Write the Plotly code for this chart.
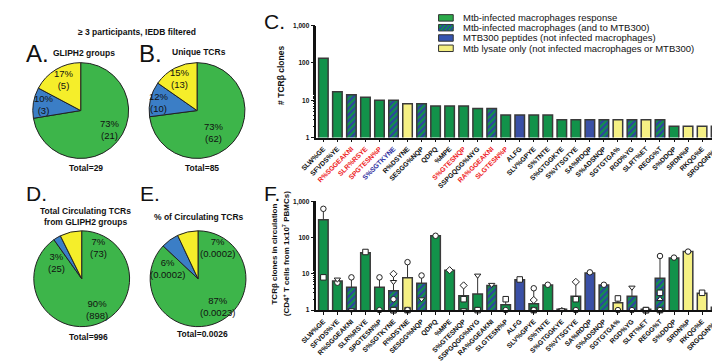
import plotly.graph_objects as go

W, H = 720, 362
FONT = "Arial, 'Liberation Sans', sans-serif"


def X(p):
    return p / W


def Y(p):
    return 1 - p / H


# ---------------- data ----------------
# pie slices in order (clockwise from 12 o'clock): green (infected macrophages), blue (MTB300), yellow (lysate only)
pie_A_vals = [21, 3, 5]
pie_A_pct = [73, 10, 17]
pie_B_vals = [62, 10, 13]
pie_B_pct = [73, 12, 15]
pie_D_vals = [898, 25, 73]
pie_D_pct = [90, 3, 7]
pie_E_pct = [87, 6, 7]
pie_E_vals = ["0.0023", "0.0002", "0.0002"]
pie_E_total = "0.0026"

clonotypes = ["SLW%GE", "SFVDS%YE", "R%SGGEAKNI", "SLR%RSYE", "SPGTESN%P", "S%SGTKYNE",
              "R%DSYNE", "SESGG%NQP", "QDPQ", "%MPE", "S%GTESNQP", "SSPGQGG%NYG",
              "RA%GGEAKNI", "SLGTESN%P", "ALFG", "SLV%GPYE", "S%TNTE", "S%GTGGKYE",
              "S%VTSGTYE", "SA%RDQP", "S%ADSNQP", "SGTGTGA%", "RGD%YG", "SLRT%ET",
              "REGG%T", "S%DDQP", "SRDN%P", "RKQG%E", "SRGQGN%P"]
# g = infected macrophages, h = infected macrophages and MTB300, b = MTB300, y = lysate only
response = ["g", "g", "h", "g", "g", "h", "y", "h", "g", "g", "g", "g", "h", "g", "b",
            "g", "g", "g", "g", "b", "h", "y", "h", "y", "h", "g", "y", "y", "b"]
label_group = ["k", "k", "r", "r", "r", "b", "k", "k", "k", "k", "r", "k", "r", "r", "k",
               "k", "k", "k", "k", "k", "k", "k", "k", "k", "k", "k", "k", "k", "k"]
clone_counts = [135, 17, 14, 12, 10, 10, 8, 8, 7, 7, 7, 6, 6, 4, 4, 4, 4, 3, 3, 3, 3, 3,
                3, 3, 3, 2, 2, 2, 2]

circ_mean = [310, 6.3, 4.3, 38, 4.3, 3.4, 7.8, 5.5, 112, 12.6, 2.5, 2.8, 4.8, 1.4, 6.9,
             1.5, 4.9, 1.05, 2.4, 10.6, 4.9, 1.6, 2.4, 1.05, 7.5, 27.5, 41, 2.9, 1.2]
circ_points = [[620, 8], [5.7, 7], [8, 1], [40], [8, 1], [10, 6, 2, 1, 1], [21, 1, 1],
               [9, 2], [112], [12.6], [4.8, 2, 1], [9, 1, 1], [5], [2, 1], [7],
               [4, 1.9, 1, 1], [5], [1, 1], [6, 2, 1, 1], [11], [5], [2.1, 1], [4.2, 1],
               [1, 1, 1], [31, 3, 2, 1, 1], [28], [41], [3], [2, 1, 1]]
circ_symbols = [["circle", "square"], ["circle", "triangle-down"], ["circle", "triangle-down"],
                ["square"], ["circle", "circle"],
                ["diamond", "triangle-down", "circle", "square", "square"],
                ["circle", "square", "circle"], ["circle", "triangle-down"], ["circle"],
                ["diamond"], ["diamond", "square", "triangle-down"],
                ["triangle-down", "circle", "square"], ["triangle-down"], ["square", "circle"],
                ["square"], ["circle", "diamond", "square", "circle"], ["circle"],
                ["triangle-up", "triangle-down"], ["diamond", "square", "circle", "circle"],
                ["circle"], ["circle"], ["square", "circle"], ["triangle-down", "circle"],
                ["square", "circle", "square"],
                ["circle", "square", "triangle-up", "square", "circle"],
                ["circle"], ["circle"], ["square"], ["circle", "square", "circle"]]

legend_labels = ["Mtb-infected macrophages response",
                 "Mtb-infected macrophages (and to MTB300)",
                 "MTB300 peptides (not infected macrophages)",
                 "Mtb lysate only (not infected macrophages or MTB300)"]

# ---------------- styles ----------------
PIE_COLORS = ["#3DB54A", "#3B7EC6", "#F5EE2A"]
BAR_GREEN = "#12924A"
BAR_BLUE = "#3A50A6"
BAR_YELLOW = "#F6F184"
HATCH = "#2C44A0"
fill_map = {"g": BAR_GREEN, "h": BAR_GREEN, "b": BAR_BLUE, "y": BAR_YELLOW}
LBL = {"k": "#111111", "r": "#EE1C25", "b": "#2E2E9E"}

fig = go.Figure()


def add_pie(vals, domx, domy):
    fig.add_trace(go.Pie(values=vals, sort=False, direction="clockwise", rotation=0,
                         marker=dict(colors=PIE_COLORS, line=dict(color="#222222", width=1)),
                         textinfo="none", hoverinfo="skip", showlegend=False,
                         domain=dict(x=[X(domx[0]), X(domx[1])], y=[Y(domy[1]), Y(domy[0])])))


add_pie(pie_A_vals, (9, 107), (51.5, 149.5))
add_pie(pie_B_vals, (128, 226), (51.5, 149.5))
add_pie(pie_D_vals, (10, 108), (223, 321))
add_pie([float(v) for v in pie_E_pct], (129, 227), (223, 321))

OUTLINE = dict(color="#3A3A3A", width=1.5)
HATCH_PATTERN = dict(shape="/", fgcolor=HATCH, fgopacity=1, size=4.5, solidity=0.5,
                     fillmode="overlay")


def add_bars(values, xa, ya):
    plain_y = [v if r != "h" else None for v, r in zip(values, response)]
    hatch_y = [v if r == "h" else None for v, r in zip(values, response)]
    plain_c = [fill_map[r] for r in response]
    fig.add_trace(go.Bar(x=clonotypes, y=plain_y, xaxis=xa, yaxis=ya,
                         marker=dict(color=plain_c, line=OUTLINE),
                         showlegend=False, hoverinfo="skip"))
    fig.add_trace(go.Bar(x=clonotypes, y=hatch_y, xaxis=xa, yaxis=ya,
                         marker=dict(color=BAR_GREEN, line=OUTLINE, pattern=HATCH_PATTERN),
                         showlegend=False, hoverinfo="skip"))


add_bars(clone_counts, "x", "y")
add_bars(circ_mean, "x2", "y2")

# range error bars (mean -> max point) for panel F
err_up = [max(0, max(p) - m) for p, m in zip(circ_points, circ_mean)]
fig.add_trace(go.Scatter(x=clonotypes, y=circ_mean, xaxis="x2", yaxis="y2", mode="markers",
                         marker=dict(size=0.1, color="rgba(0,0,0,0)"),
                         error_y=dict(type="data", symmetric=False, array=err_up,
                                      arrayminus=[0] * len(err_up), color="#333333",
                                      thickness=1, width=0),
                         showlegend=False, hoverinfo="skip"))

px_, py_, ps_ = [], [], []
for c, pts, syms in zip(clonotypes, circ_points, circ_symbols):
    for v, s in zip(pts, syms):
        px_.append(c)
        py_.append(v)
        ps_.append(s)
fig.add_trace(go.Scatter(x=px_, y=py_, xaxis="x2", yaxis="y2", mode="markers",
                         marker=dict(symbol=ps_, size=5.5, color="white",
                                     line=dict(color="#222222", width=1)),
                         cliponaxis=False, showlegend=False, hoverinfo="skip"))

tick_C = [f'<span style="color:{LBL[g]}">{c}</span>' for c, g in zip(clonotypes, label_group)]
tick_F = list(clonotypes)

axis_common = dict(showline=True, linecolor="#111111", linewidth=1.5, ticks="outside",
                   tickcolor="#111111", tickwidth=1.2, showgrid=False, zeroline=False)
xfont = dict(family=FONT, size=6.8, color="#111111", weight=700)
yfont = dict(family=FONT, size=6.5, color="#111111", weight=700)
minor = dict(ticks="outside", ticklen=2, tickcolor="#111111", tickwidth=0.8, showgrid=False)

fig.update_layout(
    width=W, height=H, margin=dict(l=0, r=0, t=0, b=0),
    paper_bgcolor="white", plot_bgcolor="white", bargap=0.32, barmode="overlay",
    font=dict(family=FONT, color="#111111"),
    xaxis=dict(domain=[X(299), X(715)], anchor="y", tickmode="array", tickvals=clonotypes,
               ticktext=tick_C, tickangle=-45, tickfont=xfont, ticklen=3,
               range=[-0.5, 28.5], **axis_common),
    yaxis=dict(domain=[Y(128), Y(14)], anchor="x", type="log", range=[0, 3],
               tickvals=[1, 10, 100, 1000], ticktext=["1", "10", "100", "1,000"],
               tickfont=yfont, ticklen=4, minor=minor, **axis_common),
    xaxis2=dict(domain=[X(299), X(715)], anchor="y2", tickmode="array", tickvals=clonotypes,
                ticktext=tick_F, tickangle=-45, tickfont=xfont, ticklen=3,
                range=[-0.5, 28.5], **axis_common),
    yaxis2=dict(domain=[Y(304), Y(193)], anchor="x2", type="log", range=[0, 3],
                tickvals=[1, 10, 100, 1000], ticktext=["1", "10", "100", "1,000"],
                tickfont=yfont, ticklen=4, minor=minor, **axis_common),
)

ann = []


def text(x, y, s, size=9, bold=False, anchor="center", angle=0, color="#111111"):
    ann.append(dict(x=X(x), y=Y(y), xref="paper", yref="paper", text=s, showarrow=False,
                    xanchor=anchor, yanchor="middle", textangle=angle,
                    font=dict(family=FONT, size=size, color=color, weight=700 if bold else 400)))


# Titles & panel letters
text(116, 20, "≥ 3 participants, IEDB filtered", 8.5, True)
text(0, 42, "A.", 24, anchor="left")
text(61, 42, "GLIPH2 groups", 8.5, True)
text(116, 42, "B.", 24, anchor="left")
text(179, 41, "Unique TCRs", 8.5, True)
text(0, 185, "D.", 21, anchor="left")
text(63, 203, "Total Circulating TCRs", 8.5, True)
text(63, 214, "from GLIPH2 groups", 8.5, True)
text(117, 185, "E.", 21, anchor="left")
text(179, 209, "% of Circulating TCRs", 8.5, True)
text(243, 10, "C.", 21, anchor="left")
text(243, 185, "F.", 21, anchor="left")

# pie labels (green, blue, yellow)
PS = 9.5
for (cx, cy), p, v in zip([(88, 120), (20, 94), (41, 69)], pie_A_pct, pie_A_vals):
    text(cx, cy, f"{p}%<br>({v})", PS)
for (cx, cy), p, v in zip([(194, 123), (138, 92), (160, 68)], pie_B_pct, pie_B_vals):
    text(cx, cy, f"{p}%<br>({v})", PS)
for (cx, cy), p, v in zip([(75, 303), (33, 255), (76, 240)], pie_D_pct, pie_D_vals):
    text(cx, cy, f"{p}%<br>({v})", PS)
for (cx, cy), p, v in zip([(198, 300), (147, 262), (198, 240)], pie_E_pct, pie_E_vals):
    text(cx, cy, f"{p}%<br>({v})", PS)

text(63, 159, f"Total={sum(pie_A_vals)}", 8.5, True)
text(182, 159, f"Total={sum(pie_B_vals)}", 8.5, True)
text(66, 331, f"Total={sum(pie_D_vals)}", 8.5, True)
text(183, 328, f"Total={pie_E_total}", 8.5, True)

# axis titles
text(263, 65, "# TCRβ clones", 8.5, True, angle=-90)
text(256, 247, "TCRβ clones in circulation", 8, True, angle=-90)
text(268, 247, "(CD4<sup>+</sup> T cells from 1x10<sup>7</sup> PBMCs)", 8, True, angle=-90)

# manual legend
shapes = []
rows = [6, 16, 26.5, 37]
sw_fill = [("#2BAA4A", None), ("#12924A", HATCH), ("#3555B0", None), ("#F3EE80", None)]
for yy, (fc, hc), lab in zip(rows, sw_fill, legend_labels):
    shapes.append(dict(type="rect", xref="paper", yref="paper", x0=X(424), x1=X(439),
                       y0=Y(yy + 3.3), y1=Y(yy - 3.3), fillcolor=fc,
                       line=dict(color="#333333", width=1)))
    if hc:
        for k in range(4):
            x0 = 424 + k * 4
            x1 = min(x0 + 5, 439)
            shapes.append(dict(type="line", xref="paper", yref="paper",
                               x0=X(x0), y0=Y(yy + 3), x1=X(x1),
                               y1=Y(yy + 3 - (x1 - x0) * 1.2),
                               line=dict(color=hc, width=1.5)))
    text(447, yy, lab, 9.5, anchor="left")

fig.update_layout(annotations=ann, shapes=shapes)
fig.write_html("out.html")
